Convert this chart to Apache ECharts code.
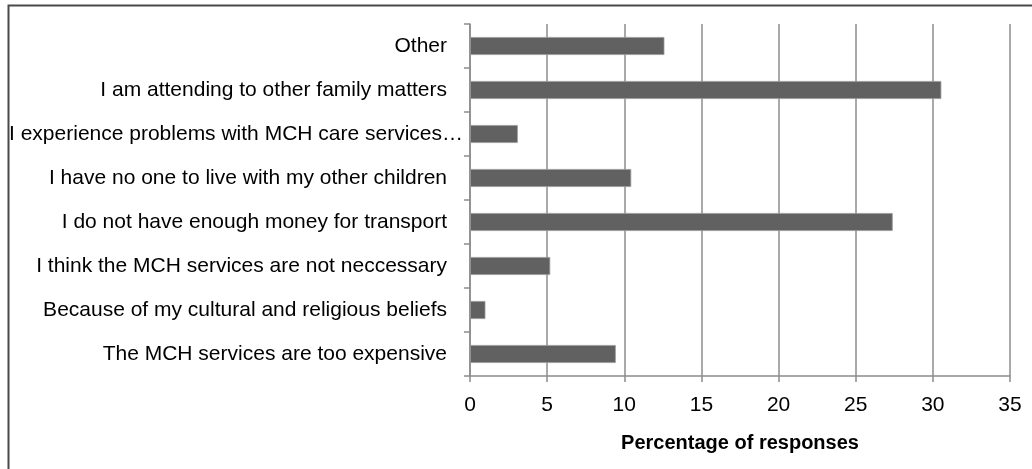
<!DOCTYPE html>
<html>
<head>
<meta charset="utf-8">
<script src="https://cdn.jsdelivr.net/npm/echarts@6/dist/echarts.min.js"></script>
<style>html,body{margin:0;padding:0;background:#fff;}#c{width:1032px;height:469px;}</style>
</head>
<body>
<div id="c"></div>
<script>
const categories = [
  "Other",
  "I am attending to other family matters",
  "I experience problems with MCH care services…",
  "I have no one to live with my other children",
  "I do not have enough money for transport",
  "I think the MCH services are not neccessary",
  "Because of my cultural and religious beliefs",
  "The MCH services are too expensive"
];
const values = [12.6, 30.55, 3.1, 10.45, 27.4, 5.2, 1.0, 9.45];
const xTicks = { min: 0, max: 35, interval: 5 };
const xAxisTitle = "Percentage of responses";

const FONT = "'Liberation Sans', Arial, sans-serif";
const labelStyle = { fontFamily: FONT, fontSize: 21, color: '#000' };
const chart = echarts.init(document.getElementById('c'), null, { renderer: 'canvas' });
chart.setOption({
  animation: false,
  backgroundColor: '#fff',
  graphic: [{
    type: 'rect', shape: { x: 8.5, y: 5.5, width: 1100, height: 600 },
    style: { fill: 'none', stroke: '#4a4a4a', lineWidth: 2 }, silent: true, z: 0
  }],
  grid: { left: 470, right: 22, top: 24, bottom: 93, containLabel: false },
  xAxis: {
    type: 'value', min: xTicks.min, max: xTicks.max, interval: xTicks.interval,
    name: xAxisTitle, nameLocation: 'middle', nameGap: 57,
    nameTextStyle: { fontFamily: FONT, fontSize: 20, fontWeight: 'bold', color: '#000' },
    axisLine: { show: true, lineStyle: { color: '#8c8c8c', width: 1.5 } },
    axisTick: { show: true, length: 6, lineStyle: { color: '#8c8c8c', width: 1.5 } },
    axisLabel: { fontFamily: FONT, fontSize: 21, color: '#000', margin: 19 },
    splitLine: { show: true, lineStyle: { color: '#8c8c8c', width: 1.5 } }
  },
  yAxis: {
    type: 'category', data: categories, inverse: true,
    axisLine: { show: true, lineStyle: { color: '#8c8c8c', width: 1.5 } },
    axisTick: { show: true, length: 6, alignWithLabel: false, lineStyle: { color: '#8c8c8c', width: 1.5 } },
    axisLabel: {
      margin: 6,
      formatter: function (v) {
        return v.indexOf('…') >= 0 ? '{l|' + v + '}' : '{n|' + v + '}';
      },
      rich: {
        n: Object.assign({ padding: [0, 17, 0, 0] }, labelStyle),
        l: Object.assign({ padding: [0, 1, 0, 0] }, labelStyle)
      }
    },
    splitLine: { show: false }
  },
  series: [{
    type: 'bar', data: values, barWidth: 18,
    itemStyle: { color: '#616161', borderColor: '#9a9a9a', borderWidth: 0.8 }
  }]
});
</script>
</body>
</html>
